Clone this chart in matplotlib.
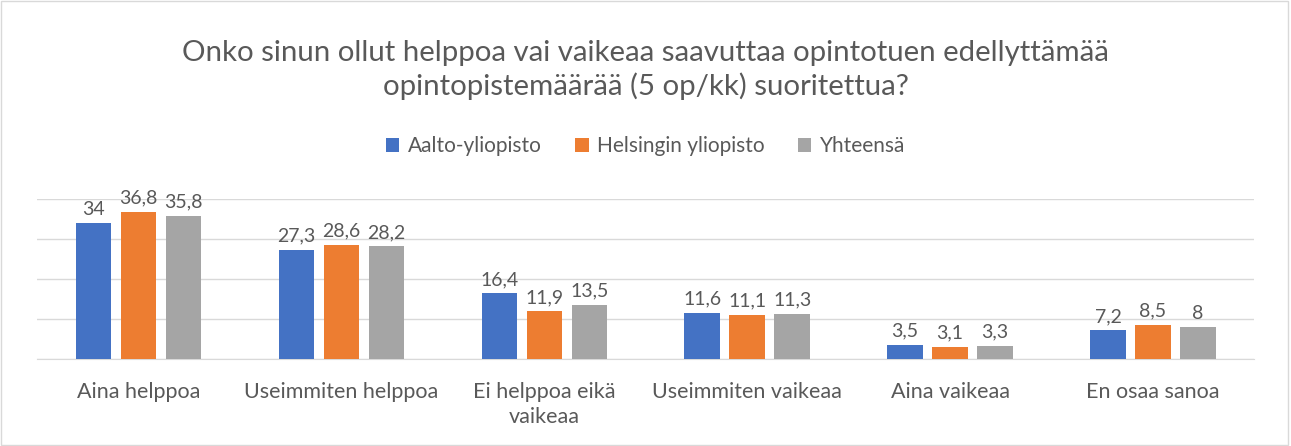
import numpy as np
import matplotlib.pyplot as plt
from matplotlib.patches import Rectangle

plt.rcParams['font.family'] = ['Lato', 'DejaVu Sans']

categories = ['Aina helppoa', 'Useimmiten helppoa', 'Ei helppoa eikä\nvaikeaa',
              'Useimmiten vaikeaa', 'Aina vaikeaa', 'En osaa sanoa']
series_names = ['Aalto-yliopisto', 'Helsingin yliopisto', 'Yhteensä']
aalto = [34, 27.3, 16.4, 11.6, 3.5, 7.2]
helsinki = [36.8, 28.6, 11.9, 11.1, 3.1, 8.5]
total = [35.8, 28.2, 13.5, 11.3, 3.3, 8]
colors = ['#4472C4', '#ED7D31', '#A5A5A5']
text_col = '#595959'

fig = plt.figure(figsize=(12.91, 4.46), dpi=100)
fig.patches.append(Rectangle((0.001, 0.002), 0.997, 0.995, transform=fig.transFigure,
                             fill=False, edgecolor='#D9D9D9', linewidth=1))
ax = fig.add_axes([0.0287, 0.195, 0.943, 0.359])

x = np.arange(len(categories))
w = 0.175
step = 0.222
for i, (vals, name) in enumerate(zip([aalto, helsinki, total], series_names)):
    pos = x + (i - 1) * step
    ax.bar(pos, vals, width=w, color=colors[i], label=name, zorder=3)
    for p, v in zip(pos, vals):
        lbl = ('%g' % v).replace('.', ',')
        ax.text(p, v + 1.3, lbl, ha='center', va='bottom', fontsize=14, color=text_col)

ax.set_xlim(-0.5, len(categories) - 0.5)
ax.set_ylim(0, 40)
ax.set_yticks([0, 10, 20, 30, 40])
ax.yaxis.grid(True, color='#D9D9D9', linewidth=1, zorder=0)
ax.tick_params(axis='y', left=False, labelleft=False)
ax.tick_params(axis='x', bottom=False, pad=13)
ax.set_xticks(x)
ax.set_xticklabels(categories, fontsize=15.5, color=text_col, linespacing=1.3)
for s in ['top', 'left', 'right']:
    ax.spines[s].set_visible(False)
ax.spines['bottom'].set_color('#D9D9D9')

fig.text(0.5, 0.843, 'Onko sinun ollut helppoa vai vaikeaa saavuttaa opintotuen edellyttämää\n'
         'opintopistemäärää (5 op/kk) suoritettua?', ha='center', va='center',
         fontsize=21.2, color=text_col, linespacing=1.3)
fig.legend(loc='center', bbox_to_anchor=(0.5, 0.672), ncol=3, frameon=False,
           fontsize=15, labelcolor=text_col, handlelength=0.65, handleheight=0.65,
           columnspacing=1.6, handletextpad=0.4)

plt.savefig('out.png', dpi=100)
